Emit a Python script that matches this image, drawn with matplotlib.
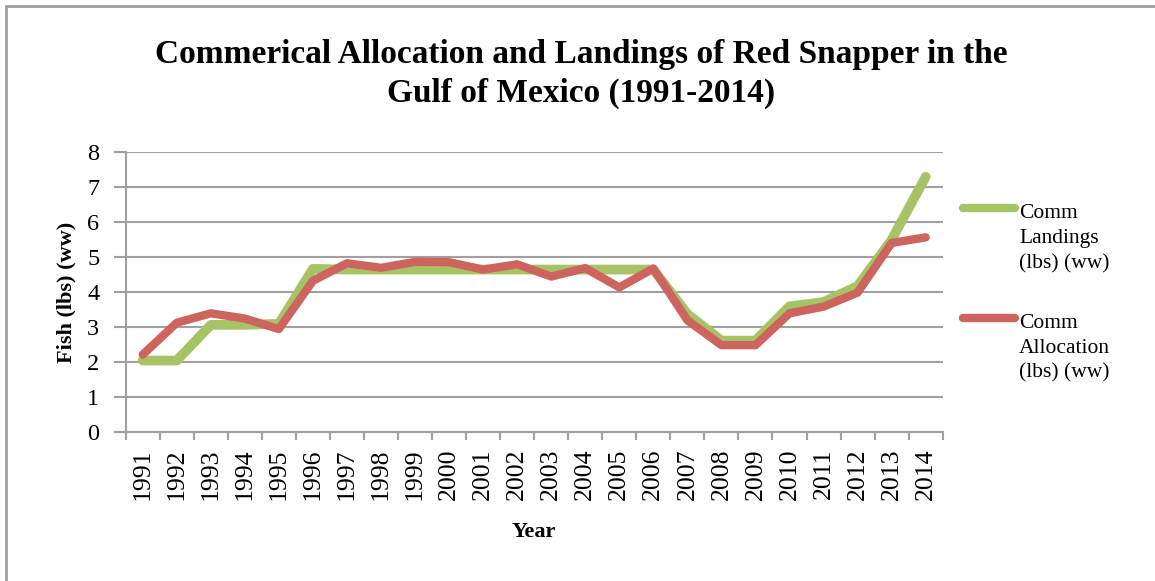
import matplotlib
matplotlib.use("Agg")
import matplotlib.pyplot as plt
from matplotlib.lines import Line2D
from matplotlib.patches import Rectangle
import numpy as np

years = [str(y) for y in range(1991, 2015)]
landings = [2.05, 2.05, 3.07, 3.07, 3.1, 4.67, 4.65, 4.65, 4.65, 4.65, 4.65, 4.65,
            4.65, 4.65, 4.65, 4.65, 3.38, 2.62, 2.62, 3.6, 3.72, 4.18, 5.5, 7.3]
allocation = [2.22, 3.13, 3.4, 3.25, 2.95, 4.33, 4.83, 4.7, 4.87, 4.86, 4.65, 4.8,
              4.45, 4.69, 4.14, 4.68, 3.2, 2.49, 2.49, 3.4, 3.59, 3.99, 5.41, 5.57]
series_labels = ["Comm\nLandings\n(lbs) (ww)", "Comm\nAllocation\n(lbs) (ww)"]
title = "Commerical Allocation and Landings of Red Snapper in the\nGulf of Mexico (1991-2014)"

GREEN = "#A6C466"
RED = "#CD655E"
GRID = "#A0A0A0"
SERIF = ["Liberation Serif", "DejaVu Serif"]

W, H = 1155, 581
fig = plt.figure(figsize=(W / 100, H / 100), dpi=100)

def fx(px):
    return px / W

def fy(py):
    return 1 - py / H

ax = fig.add_axes([fx(125.7), fy(432.3), fx(942.7) - fx(125.7), fy(152.3) - fy(432.3)])

x = np.arange(len(years))
ax.plot(x, landings, color=GREEN, lw=7, solid_capstyle="round", solid_joinstyle="round", zorder=3)
ax.plot(x, allocation, color=RED, lw=6, solid_capstyle="round", solid_joinstyle="round", zorder=4)

ax.set_xlim(-0.5, len(years) - 0.5)
ax.set_ylim(0, 8)
ax.set_yticks(range(0, 9))
ax.yaxis.grid(True, color=GRID, lw=1.5)
ax.set_axisbelow(True)

ax.set_xticks(np.arange(-0.5, len(years), 1.0))
ax.set_xticklabels([])
ax.set_xticks(x, minor=True)
ax.set_xticklabels(years, minor=True, rotation=90, fontfamily=SERIF, fontsize=18.5)
ax.tick_params(axis="x", which="major", length=6, width=1.5, color=GRID, direction="out")
ax.tick_params(axis="x", which="minor", length=0, pad=12)
ax.tick_params(axis="y", length=9, width=1.5, color=GRID, direction="out", pad=10, labelsize=17.5)
for lab in ax.get_yticklabels():
    lab.set_fontfamily(SERIF)

for s in ["top", "right"]:
    ax.spines[s].set_visible(False)
for s in ["left", "bottom"]:
    ax.spines[s].set_color(GRID)
    ax.spines[s].set_linewidth(1.5)

fig.text(fx(66), fy(292), "Fish (lbs) (ww)", rotation=90, ha="center", va="center",
         fontfamily=SERIF, fontweight="bold", fontsize=16)
fig.text(fx(534), fy(532), "Year", ha="center", va="center",
         fontfamily=SERIF, fontweight="bold", fontsize=16)

# title, one line at a time
for line, base in zip(title.split("\n"), [63.3, 101.7]):
    fig.text(fx(581), fy(base), line, ha="center", va="baseline", fontfamily=SERIF,
             fontweight="bold", fontsize=24)

# legend
for ly, col, lab in [(208.3, GREEN, series_labels[0]), (317.7, RED, series_labels[1])]:
    fig.add_artist(Line2D([fx(963), fx(1015)], [fy(ly), fy(ly)], color=col, lw=6,
                          solid_capstyle="round", transform=fig.transFigure))
    for i, line in enumerate(lab.split("\n")):
        fig.text(fx(1019), fy(ly + 10 + 25 * i), line, ha="left", va="baseline",
                 fontfamily=SERIF, fontsize=15.5)

# frame
fig.add_artist(Rectangle((fx(6), fy(H + 10)), 1.2, fy(6) - fy(H + 10), fill=False,
                         edgecolor="#A0A0A0", lw=2, transform=fig.transFigure))

fig.savefig("out.png", dpi=100)
